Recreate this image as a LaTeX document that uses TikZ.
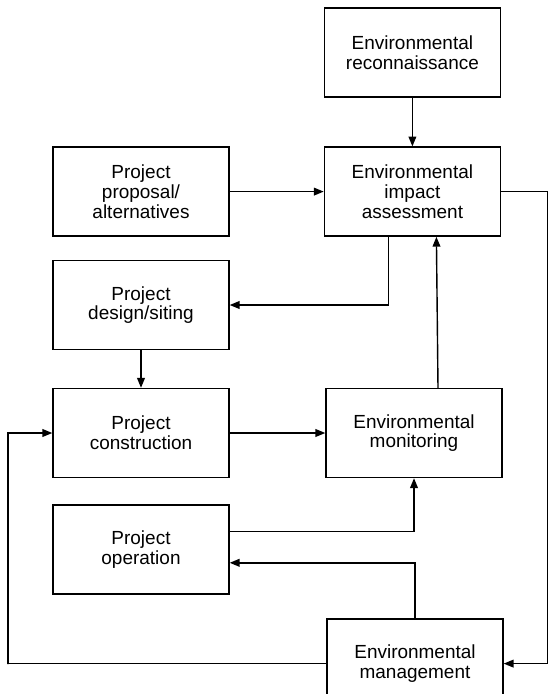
\documentclass[tikz,border=0pt]{standalone}
\usepackage{fontspec}
\setmainfont{Liberation Sans}
\usetikzlibrary{calc}
\usetikzlibrary{positioning}
\usetikzlibrary{arrows.meta}

\begin{document}
\begin{tikzpicture}[%
  >={Triangle[length=7pt,width=5.5pt]},
  stage/.style={draw, line width=1pt, minimum width=4.4cm, minimum height=2.225cm,
    align=center, inner sep=2pt, font=\fontsize{13.5}{14}\selectfont},
  flow/.style={line width=1pt, ->},
]

  \useasboundingbox (0,0) rectangle (13.675,-17.35);

  \node[stage] (recon) at (10.31,-1.31) {Environmental\\reconnaissance};
  \node[stage] (eia)   at (10.31,-4.79) {Environmental\\impact\\assessment};
  \node[stage] (prop)  at (3.525,-4.79) {Project\\proposal/\\alternatives};
  \node[stage] (design) at (3.525,-7.625) {Project\\design/siting};
  \node[stage] (constr) at (3.525,-10.825) {Project\\construction};
  \node[stage] (mon)   at (10.35,-10.825) {Environmental\\monitoring};
  \node[stage] (oper)  at (3.525,-13.74) {Project\\operation};
  \node[stage] (mgmt)  at (10.375,-16.59) {Environmental\\management};

  \coordinate (loopL) at (0.2,-16.6);
  \coordinate (loopR) at (13.69,-4.8);

  \draw[flow] (recon) -- (eia);
  \draw[flow] (prop) -- (eia);
  \draw[flow] ([xshift=-0.6cm]eia.south) |- (design);
  \draw[flow] (design) -- (constr);
  \draw[flow] (constr) -- (mon);
  \draw[flow] ([xshift=0.6cm]mon.north) -- ([xshift=0.6cm]eia.south);
  \draw[flow] ([yshift=0.45cm]oper.east) -| (mon.south);
  \draw[flow] (mgmt.north) |- ([yshift=-0.33cm]oper.east);
  \draw[flow] (mgmt.west) -| (loopL) |- (constr.west);
  \draw[flow] (eia.east) -| (loopR) |- (mgmt.east);

\end{tikzpicture}
\end{document}
